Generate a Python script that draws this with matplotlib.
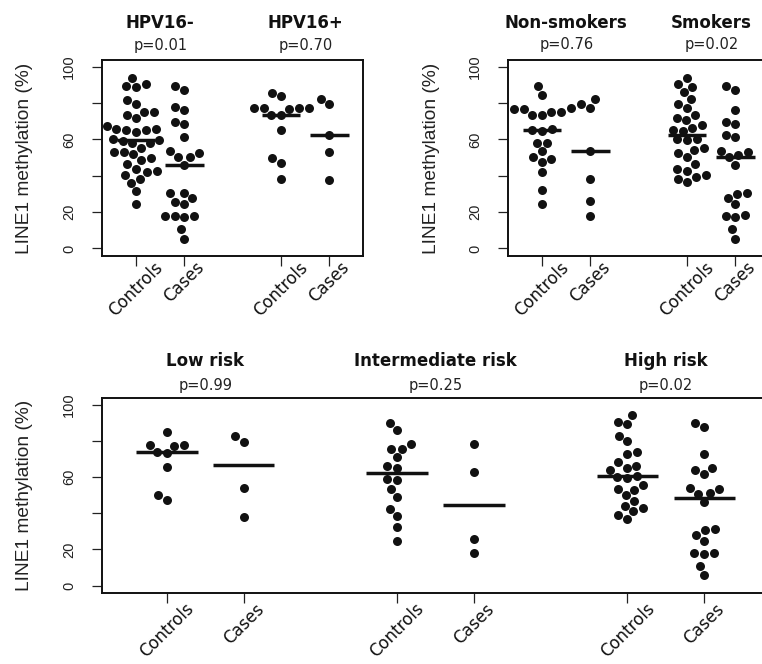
import numpy as np
import matplotlib
matplotlib.use("Agg")
import matplotlib.pyplot as plt
from matplotlib.transforms import ScaledTranslation, blended_transform_factory

# --- data (LINE1 methylation, %) ---
hpv_neg_controls = [94.1, 90.5, 89.5, 89.0, 82.0, 79.3, 75.2, 75.2, 73.4, 71.9, 67.7, 65.9,
                    65.9, 65.0, 65.0, 64.0, 60.4, 59.6, 59.4, 58.2, 58.2, 55.4, 53.2, 53.2,
                    51.9, 49.7, 48.6, 46.6, 43.9, 42.4, 42.2, 40.7, 38.3, 36.3, 31.7, 24.6]
hpv_neg_cases = [89.2, 87.3, 78.0, 76.5, 69.5, 68.4, 61.5, 53.6, 52.7, 50.6, 50.5, 46.1,
                 30.5, 30.3, 27.7, 25.7, 24.4, 17.8, 17.6, 17.6, 17.1, 10.5, 5.3]
hpv_pos_controls = [85.7, 84.0, 77.4, 77.4, 77.2, 77.1, 76.9, 73.4, 73.4, 65.1, 49.9, 47.3, 38.0]
hpv_pos_cases = [82.2, 79.3, 62.4, 53.2, 37.6]

nonsmk_controls = [89.6, 84.5, 77.5, 76.8, 76.8, 75.3, 75.3, 73.5, 73.3, 65.8, 65.3, 64.7,
                   58.3, 58.3, 53.6, 50.3, 49.4, 47.5, 42.0, 32.2, 24.7]
nonsmk_cases = [82.3, 79.3, 77.5, 53.7, 38.2, 26.0, 17.9]
smk_controls = [94.1, 90.5, 89.0, 86.0, 82.4, 79.4, 77.4, 73.4, 72.1, 70.6, 68.1, 66.2, 65.1,
                64.6, 60.4, 60.0, 59.6, 55.4, 54.1, 52.3, 50.1, 46.4, 43.9, 42.8, 40.7, 39.1,
                38.2, 36.5]
smk_cases = [89.4, 87.2, 76.5, 69.5, 68.4, 62.6, 61.5, 53.6, 53.2, 51.4, 50.1, 46.1, 30.6,
             29.9, 27.9, 24.4, 18.2, 17.8, 17.2, 10.5, 5.3]

low_controls = [84.6, 77.6, 77.6, 77.4, 73.8, 73.4, 65.3, 50.1, 47.5]
low_cases = [82.6, 79.4, 53.8, 38.2]
mid_controls = [89.9, 86.1, 78.0, 75.6, 75.2, 70.8, 65.9, 65.0, 58.7, 58.5, 53.6, 49.2, 42.6,
                38.5, 32.5, 24.8]
mid_cases = [78.0, 62.8, 26.0, 17.8]
high_controls = [94.1, 90.5, 89.2, 82.6, 79.8, 73.8, 72.7, 68.3, 66.1, 65.1, 64.0, 60.6, 60.2,
                 59.6, 55.6, 53.6, 52.7, 50.1, 46.8, 44.0, 42.9, 41.1, 38.9, 36.7]
high_cases = [89.9, 87.7, 72.5, 65.1, 64.0, 61.8, 53.9, 53.2, 51.0, 50.5, 46.4, 31.2, 30.5,
              27.9, 24.8, 18.3, 18.0, 17.4, 11.0, 5.9]

hpv_titles = ["HPV16-", "HPV16+"]
hpv_pvals = ["p=0.01", "p=0.70"]
hpv_medians = [59.5, 46.1, 73.4, 62.4]
smk_titles = ["Non-smokers", "Smokers"]
smk_pvals = ["p=0.76", "p=0.02"]
smk_medians = [65.3, 53.7, 62.3, 50.3]
risk_titles = ["Low risk", "Intermediate risk", "High risk"]
risk_pvals = ["p=0.99", "p=0.25", "p=0.02"]
risk_medians = [73.8, 66.8, 62.0, 44.4, 60.4, 48.5]
tick_names = ["Controls", "Cases"]

W, H = 762, 664
fig = plt.figure(figsize=(W / 100, H / 100), dpi=100)


def px_axes(left, top, right, bottom):
    return fig.add_axes([left / W, 1 - bottom / H, (right - left) / W, (bottom - top) / H])


def swarm(vals, xs, ys, d=10.0):
    # simple beeswarm in pixel space, returns x offsets in data units
    vals = np.asarray(vals, float)
    out = np.zeros(len(vals))
    placed = []
    for i in np.argsort(vals):
        yp = vals[i] * ys
        cands = [0.0]
        for xp, yq in placed:
            dy = yp - yq
            if abs(dy) < d:
                dx = np.sqrt(d * d - dy * dy)
                cands += [xp + dx, xp - dx]
        cands.sort(key=lambda c: (abs(c), c))
        for c in cands:
            if all((c - xp) ** 2 + (yp - yq) ** 2 >= d * d - 1e-6 for xp, yq in placed):
                break
        placed.append((c, yp))
        out[i] = c / xs
    return out


def panel(ax, groups, titles, pvals, medians, xlim, p_off, xpad):
    ylim = (-4.2, 103.8)
    ax.set_xlim(*xlim)
    ax.set_ylim(*ylim)
    bb = ax.get_window_extent()
    xs = bb.width / (xlim[1] - xlim[0])
    ys = bb.height / (ylim[1] - ylim[0])
    trans = blended_transform_factory(ax.transData, ax.transAxes)
    positions = []
    m = 0
    for g, (ctrl, case) in enumerate(groups):
        for k, vals in enumerate((ctrl, case)):
            pos = 3 * g + k + 1
            positions.append(pos)
            off = swarm(vals, xs, ys)
            ax.scatter(pos + off, vals, s=42, color="#111111", linewidths=0, zorder=3)
            ax.plot([pos - 0.4, pos + 0.4], [medians[m]] * 2, color="#111111", lw=2.5,
                    solid_capstyle="butt", zorder=4)
            m += 1
        cx = 3 * g + 1.5
        ax.text(cx, 1, titles[g], transform=trans + ScaledTranslation(0, 0.32, fig.dpi_scale_trans),
                ha="center", va="baseline", fontsize=12, fontweight="bold", color="#111111")
        ax.text(cx, 1, pvals[g], transform=trans + ScaledTranslation(0, p_off, fig.dpi_scale_trans),
                ha="center", va="baseline", fontsize=10.5, color="#222222")
    ax.set_xticks(positions)
    ax.set_xticklabels([tick_names[i % 2] for i in range(len(positions))],
                       rotation=45, ha="center", va="top", fontsize=12, color="#111111")
    ax.set_yticks([0, 20, 40, 60, 80, 100])
    ax.set_yticklabels(["0", "20", "", "60", "", "100"], family="Liberation Sans", fontsize=10.5)
    for lab in ax.get_yticklabels():
        lab.set_rotation(90)
        lab.set_va("center")
    ax.tick_params(axis="both", length=7.2, width=0.9, color="#222222")
    ax.tick_params(axis="y", pad=11.5, labelcolor="#222222")
    ax.tick_params(axis="x", pad=xpad)
    for s in ax.spines.values():
        s.set_linewidth(1.4)
        s.set_color("#111111")
    ax.set_ylabel("LINE1 methylation (%)", family="Liberation Sans", fontsize=13.8, color="#222222")
    ax.yaxis.set_label_coords(-(102.3 - 33.5) / bb.width, 0.5)


ax1 = px_axes(102.3, 60, 363.3, 256)
ax2 = px_axes(508.3, 60, 769.3, 256)
ax3 = px_axes(102.3, 397.7, 768.7, 593.3)

panel(ax1, [(hpv_neg_controls, hpv_neg_cases), (hpv_pos_controls, hpv_pos_cases)],
      hpv_titles, hpv_pvals, hpv_medians, (0.3, 5.7), 0.10, -5.5)
panel(ax2, [(nonsmk_controls, nonsmk_cases), (smk_controls, smk_cases)],
      smk_titles, smk_pvals, smk_medians, (0.3, 5.7), 0.11, -5.5)
panel(ax3, [(low_controls, low_cases), (mid_controls, mid_cases), (high_controls, high_cases)],
      risk_titles, risk_pvals, risk_medians, (0.16, 8.84), 0.08, -2.5)

fig.savefig("out.png", dpi=100)
